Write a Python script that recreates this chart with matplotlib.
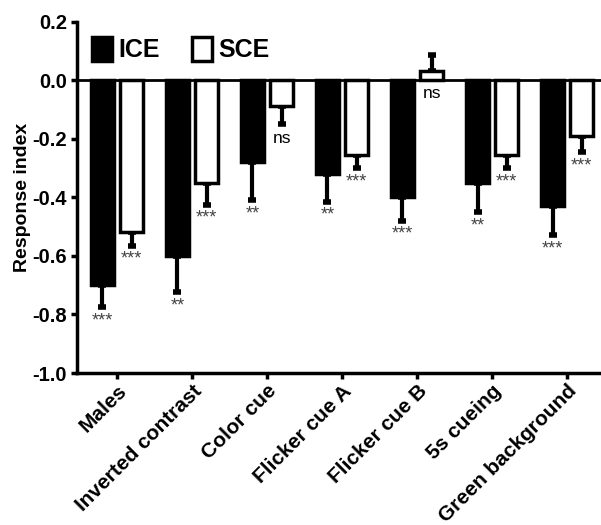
import matplotlib
matplotlib.use("Agg")
import matplotlib.pyplot as plt
import matplotlib.transforms as mtransforms
import numpy as np

categories = ['Males', 'Inverted contrast', 'Color cue', 'Flicker cue A',
              'Flicker cue B', '5s cueing', 'Green background']
ice = [-0.70, -0.60, -0.28, -0.32, -0.40, -0.35, -0.43]
ice_err = [0.075, 0.125, 0.13, 0.095, 0.08, 0.10, 0.10]
sce = [-0.52, -0.35, -0.09, -0.255, 0.03, -0.255, -0.19]
sce_err = [0.045, 0.075, 0.06, 0.045, 0.055, 0.045, 0.055]
ice_sig = ['***', '**', '**', '**', '***', '**', '***']
sce_sig = ['***', '***', 'ns', '***', 'ns', '***', '***']
yticks = [0.2, 0.0, -0.2, -0.4, -0.6, -0.8, -1.0]

plt.rcParams['font.family'] = ['Liberation Sans', 'DejaVu Sans']

fig = plt.figure(figsize=(6.01, 5.25), dpi=100)
ax = fig.add_axes([0.128, 0.2895, 0.872, 0.6695])

x = np.arange(len(categories))
w = 0.31
off = 0.195
lw = 2.5

def one_sided(vals, errs):
    lo = [e if v < 0 else 0 for v, e in zip(vals, errs)]
    hi = [e if v >= 0 else 0 for v, e in zip(vals, errs)]
    return [lo, hi]

b1 = ax.bar(x - off, ice, w, color='black', edgecolor='black', linewidth=lw,
            label='ICE', zorder=3)
b2 = ax.bar(x + off, sce, w, color='white', edgecolor='black', linewidth=lw,
            label='SCE', zorder=3)
ax.errorbar(x - off, ice, yerr=one_sided(ice, ice_err), fmt='none', ecolor='black',
            elinewidth=3, capsize=3.2, capthick=4, zorder=2)
ax.errorbar(x + off, sce, yerr=one_sided(sce, sce_err), fmt='none', ecolor='black',
            elinewidth=3, capsize=3.2, capthick=4, zorder=2)

def annotate(xs, vals, errs, sigs):
    for xi, v, e, s in zip(xs, vals, errs, sigs):
        if v < 0:
            if s == 'ns':
                ax.text(xi, v - e - 0.025, s, ha='center', va='top', fontsize=12.5,
                        color='black')
            else:
                ax.text(xi, v - e - 0.018, s, ha='center', va='top', fontsize=13,
                        color='#444444')
        else:
            ax.text(xi, -0.02, s, ha='center', va='top', fontsize=12.5, color='black')

annotate(x - off, ice, ice_err, ice_sig)
annotate(x + off, sce, sce_err, sce_sig)

ax.axhline(0, color='black', linewidth=2, zorder=4)
ax.set_xlim(-0.533, 6.45)
ax.set_ylim(-1.0, 0.2)
ax.set_yticks(yticks)
ax.set_yticklabels([f'{t:.1f}' for t in yticks], fontsize=14.5, fontweight='bold')
ax.set_xticks(x)
ax.set_xticklabels(categories, rotation=45, ha='right', rotation_mode='anchor',
                   fontsize=15, fontweight='bold')
shift = mtransforms.ScaledTranslation(-4 / 100, 0, fig.dpi_scale_trans)
for lab in ax.get_xticklabels():
    lab.set_transform(lab.get_transform() + shift)
ax.set_ylabel('Response index', fontsize=14, fontweight='bold', labelpad=1)

for s in ['top', 'right']:
    ax.spines[s].set_visible(False)
for s in ['left', 'bottom']:
    ax.spines[s].set_linewidth(2.5)
ax.tick_params(axis='both', width=2.5, length=4, direction='out', pad=3)
ax.tick_params(axis='x', length=4, pad=2)

leg = ax.legend(loc='upper left', ncol=2, frameon=False,
                prop={'size': 18, 'weight': 'bold'}, handlelength=0.8,
                handleheight=1.08, columnspacing=1.32, handletextpad=0.24,
                borderpad=0, borderaxespad=0,
                bbox_to_anchor=(0.0286, 0.956))

fig.savefig('out.png', dpi=100)
